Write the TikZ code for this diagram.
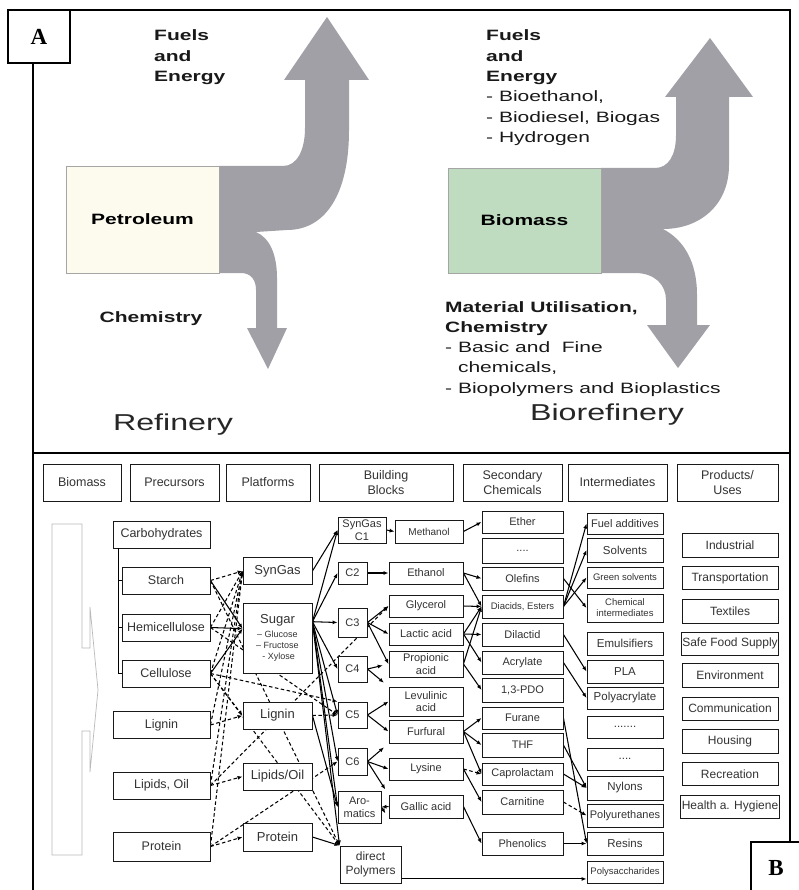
\documentclass[tikz,border=0pt]{standalone}
\usepackage{fontspec}
\setmainfont{Liberation Sans}
\newfontfamily\labfont{Liberation Serif}
\usepackage{graphicx}
\usetikzlibrary{positioning}
\usetikzlibrary{arrows.meta,backgrounds}

\definecolor{flowgray}{RGB}{160,160,166}
\definecolor{petrofill}{RGB}{253,250,238}
\definecolor{biofill}{RGB}{191,220,193}
\definecolor{boxgray}{RGB}{165,165,165}

\newcommand{\wide}[1]{\scalebox{1.4}[1]{#1}}
\newcommand{\widetxt}[1]{\scalebox{1.4}[1]{\begin{tabular}[t]{@{}l@{}}#1\end{tabular}}}

\begin{document}
\begin{tikzpicture}[x=1pt,y=-1pt,node distance=28pt,on grid,
    >={Latex[length=5pt,width=4pt]},
    frame/.style={line width=2pt},
    lab/.style={draw,line width=1.5pt,fill=white,font=\labfont\bfseries\fontsize{23}{25}\selectfont},
    flow/.style={fill=flowgray},
    src/.style={draw=boxgray,line width=0.8pt,minimum width=153pt,font=\bfseries\fontsize{15}{18}\selectfont},
    say/.style={inner sep=0pt,anchor=base west,text=black!90},
    bx/.style={draw=black!90,line width=0.9pt,fill=white,inner sep=1pt,align=center,text=black!80},
    hd/.style={bx,minimum height=37pt,font=\fontsize{12.5}{15}\selectfont},
    pre/.style={bx,minimum width=88pt,minimum height=27pt,font=\fontsize{12.5}{14}\selectfont},
    pla/.style={bx,minimum width=69pt,minimum height=27pt,font=\fontsize{13}{15}\selectfont},
    bb/.style={bx,minimum height=22pt,font=\fontsize{11}{12.5}\selectfont},
    bbc/.style={bb,minimum width=29pt},
    bbw/.style={bb,minimum width=74pt},
    sec/.style={bx,minimum width=81pt,minimum height=23pt,font=\fontsize{11}{12.5}\selectfont},
    itm/.style={bx,minimum width=76pt,minimum height=23pt,font=\fontsize{11.5}{13}\selectfont},
    prd/.style={bx,minimum width=96pt,minimum height=23pt,font=\fontsize{12}{14}\selectfont},
    tiny/.style={font=\fontsize{9.5}{11}\selectfont},
    dsh/.style={dash pattern=on 3.5pt off 2.5pt},
    stub/.style={shorten >=6pt}]
		\useasboundingbox (0,0) rectangle (798,890);

		% panel A : refinery
		\fill[flow] (219,166) -- (283,166) .. controls (297,166) and (305,150) .. (305,128) -- (305,80)
			-- (284,80) -- (327,17) -- (369,80) -- (349,80) -- (349,130)
			.. controls (349,195) and (325,230) .. (287,230) -- (256,232)
			.. controls (270,238) and (277,255) .. (277,278) -- (277,328) -- (287,328) -- (268,369)
			-- (247,328) -- (256,328) -- (256,290) .. controls (256,280) and (251,273) .. (241,273)
			-- (219,273) -- cycle;
		\node[src,fill=petrofill,minimum height=107pt] (petro) at (142.5,219.5) {\wide{Petroleum}};
		\node[say,font=\bfseries\fontsize{15}{20.3}\selectfont] (fuelA) at (154,41) {\widetxt{Fuels\\and\\Energy}};
		\node[text=black!90,font=\bfseries\fontsize{15}{18}\selectfont] (chemA) at (151,319) {\wide{Chemistry}};
		\node[text=black!85,font=\fontsize{23}{26}\selectfont] (refin) at (173,425) {\wide{Refinery}};

		% panel A : biorefinery
		\fill[flow] (601,168) -- (655,168) .. controls (668,168) and (676,156) .. (676,135) -- (676,97)
			-- (665,97) -- (710,38) -- (753,97) -- (729,97) -- (729,165)
			.. controls (729,205) and (700,229) .. (663,229)
			.. controls (684,240) and (697,262) .. (697,295) -- (697,325) -- (710,325) -- (678,368)
			-- (647,325) -- (666,325) -- (666,300) .. controls (666,285) and (655,273) .. (635,273)
			-- (601,273) -- cycle;
		\node[src,fill=biofill,minimum height=105pt] (biomA) at (524.5,220.5) {\wide{Biomass}};
		\node[say,font=\bfseries\fontsize{15}{20.3}\selectfont] (fuelB) at (486,41)
			{\widetxt{Fuels\\and\\Energy\\\mdseries - Bioethanol,\\\mdseries - Biodiesel, Biogas\\\mdseries - Hydrogen}};
		\node[say,font=\bfseries\fontsize{15}{20.3}\selectfont] (matB) at (445,312)
			{\widetxt{Material Utilisation,\\Chemistry\\\mdseries - Basic and\ \ Fine\\\mdseries \phantom{- }chemicals,\\\mdseries - Biopolymers and Bioplastics}};
		\node[text=black!85,font=\fontsize{23}{26}\selectfont] (biorefin) at (607,415) {\wide{Biorefinery}};

		% frame
		\draw[frame] (33,890) -- (33,10) -- (790,10) -- (790,842);
		\draw[frame] (33,453) -- (790,453);
		\node[lab,minimum width=62pt,minimum height=53pt] (labA) at (39,36.5) {A};
		\node[lab,minimum width=50pt,minimum height=52pt] (labB) at (776,868) {B};

		% panel B : column heads
		\node[hd,minimum width=78pt] (hbio) at (82,482.5) {Biomass};
		\node[hd,minimum width=89pt] (hpre) at (174.5,482.5) {Precursors};
		\node[hd,minimum width=84pt] (hpla) at (268,482.5) {Platforms};
		\node[hd,minimum width=134pt] (hbb) at (386,482.5) {Building\\Blocks};
		\node[hd,minimum width=99pt] (hsec) at (512.5,482.5) {Secondary\\Chemicals};
		\node[hd,minimum width=99pt] (hint) at (617.5,482.5) {Intermediates};
		\node[hd,minimum width=101pt] (hpro) at (727.5,482.5) {Products/\\Uses};

		% biomass arrow outline
		\draw[gray!55,line width=0.7pt] (52,524) -- (82,524) -- (82,648) -- (90,648) -- (90,607) -- (98,690)
			-- (90,772) -- (90,731) -- (82,731) -- (82,855) -- (52,855) -- cycle;

		% precursors
		\node[pre,minimum width=97pt] (carb) at (161.5,534.5) {Carbohydrates};
		\node[pre] (starch) at (166,580.5) {Starch};
		\node[pre] (hemi) [below=47pt of starch] {Hemicellulose};
		\node[pre] (cell) [below=46pt of hemi] {Cellulose};
		\node[pre,minimum width=97pt] (lig) at (161.5,725) {Lignin};
		\node[pre,minimum width=97pt] (lip) [below=60.5pt of lig] {Lipids, Oil};
		\node[pre,minimum width=97pt,minimum height=29pt] (prot) [below=61pt of lip] {Protein};
		\coordinate (brk) at (118,548);
		\draw[line width=0.9pt] (brk) |- (cell.west);
		\draw[line width=0.9pt] (brk |- starch.west) -- (starch.west);
		\draw[line width=0.9pt] (brk |- hemi.west) -- (hemi.west);

		% platforms
		\node[pla] (syn) at (277.5,571) {SynGas};
		\node[pla,minimum height=70pt] (sugar) [below=67pt of syn]
			{\begin{tabular}{@{}c@{}}Sugar\\[-1pt]
			\fontsize{9}{11}\selectfont -- Glucose\\[-4pt]
			\fontsize{9}{11}\selectfont -- Fructose\\[-4pt]
			\fontsize{9}{11}\selectfont \ - Xylose\end{tabular}};
		\node[pla] (plig) [below=77.5pt of sugar] {Lignin};
		\node[pla] (plip) [below=61pt of plig] {Lipids/Oil};
		\node[pla,minimum height=28pt] (pprot) [below=60.5pt of plip] {Protein};

		% building blocks
		\node[bb,minimum width=48pt,minimum height=26pt] (c1) at (362,530) {SynGas\\C1};
		\node[bb,minimum width=68pt,minimum height=23pt,font=\fontsize{10}{12}\selectfont] (meth) at (429,531.5) {Methanol};
		\node[bbc] (c2) at (352.5,573) {C2};
		\node[bbw] (eth) [right=73.5pt of c2] {Ethanol};
		\node[bbc,minimum height=29pt] (c3) at (352.5,622.5) {C3};
		\node[bbw] (glyc) at (426,606) {Glycerol};
		\node[bbw] (lact) [below=28pt of glyc] {Lactic acid};
		\node[bbw,minimum height=26pt] (prop) [below=30pt of lact] {Propionic\\acid};
		\node[bbc,minimum height=26pt] (c4) at (352.5,669) {C4};
		\node[bbw,minimum height=29pt] (levu) [below=37.5pt of prop] {Levulinic\\acid};
		\node[bbc,minimum height=26pt] (c5) at (352.5,715) {C5};
		\node[bbw,minimum height=23pt] (furf) [below=30pt of levu] {Furfural};
		\node[bbc,minimum height=27pt] (c6) at (352.5,761.5) {C6};
		\node[bbw] (lys) [below=37.5pt of furf] {Lysine};
		\node[bb,minimum width=43pt,minimum height=32pt,font=\fontsize{11}{13}\selectfont] (arom) at (359.5,807) {Aro-\\matics};
		\node[bbw,minimum height=23pt] (gall) [below=37.5pt of lys] {Gallic acid};
		\node[bb,minimum width=61pt,minimum height=37pt,font=\fontsize{12}{13.5}\selectfont] (dpoly) at (370.5,864.5) {direct\\Polymers};

		% secondary chemicals
		\node[sec,minimum height=22pt] (ether) at (522.5,522) {Ether};
		\node[sec,minimum height=25pt] (sdots) [below=28.5pt of ether] {....};
		\node[sec] (olef) [below=of sdots] {Olefins};
		\node[sec,tiny] (diac) [below=of olef] {Diacids, Esters};
		\node[sec] (dilac) [below=of diac] {Dilactid};
		\node[sec] (acryl) [below=of dilac] {Acrylate};
		\node[sec,minimum height=24pt] (pdo) [below=27.5pt of acryl] {1,3-PDO};
		\node[sec,minimum height=22pt] (furane) [below=of pdo] {Furane};
		\node[sec,minimum height=24pt] (thf) [below=27pt of furane] {THF};
		\node[sec,minimum height=22pt] (capro) [below=29pt of thf] {Caprolactam};
		\node[sec,minimum height=24pt] (carn) [below=of capro] {Carnitine};
		\node[sec] (phen) [below=41.5pt of carn] {Phenolics};

		% intermediates
		\node[itm,minimum height=21pt,font=\fontsize{11}{12}\selectfont] (fuel) at (625,523.5) {Fuel additives};
		\node[itm,minimum height=24pt] (solv) [below=26.5pt of fuel] {Solvents};
		\node[itm,minimum height=21pt,tiny] (gsolv) [below=27.5pt of solv] {Green solvents};
		\node[itm,minimum height=28pt,tiny] (chem) [below=30.5pt of gsolv] {Chemical\\intermediates};
		\node[itm] (emul) [below=35.5pt of chem] {Emulsifiers};
		\node[itm] (pla) [below=of emul] {PLA};
		\node[itm,minimum height=22pt] (polyac) [below=26.5pt of pla] {Polyacrylate};
		\node[itm,minimum height=22pt] (idots) [below=29pt of polyac] {.......};
		\node[itm,minimum height=22pt] (idotsb) [below=32pt of idots] {....};
		\node[itm,minimum height=24pt] (nyl) [below=29pt of idotsb] {Nylons};
		\node[itm,font=\fontsize{11}{12}\selectfont] (pur) [below=27.5pt of nyl] {Polyurethanes};
		\node[itm] (resin) [below=of pur] {Resins};
		\node[itm,minimum height=22pt,tiny] (psac) [below=28.5pt of resin] {Polysaccharides};

		% products / uses
		\node[prd,minimum height=24pt] (ind) at (730,545) {Industrial};
		\node[prd] (trans) [below=33pt of ind] {Transportation};
		\node[prd,minimum height=24pt] (text) [below=33pt of trans] {Textiles};
		\node[prd,minimum width=97pt] (food) [below=32.5pt of text] {Safe Food Supply};
		\node[prd,minimum height=24pt] (env) [below=31.5pt of food] {Environment};
		\node[prd] (comm) [below=33.5pt of env] {Communication};
		\node[prd,minimum height=24pt] (hous) [below=32.5pt of comm] {Housing};
		\node[prd] (recr) [below=33pt of hous] {Recreation};
		\node[prd] (health) [below=32.5pt of recr] {Health a. Hygiene};

		\begin{pgfonlayer}{background}
		\path[->,line width=1.05pt]
		(starch.east) edge [dsh] (syn.west)
		              edge (sugar.165)
		              edge [dsh] (dpoly.north west)
		(hemi.east)   edge [dsh] (syn.west)
		              edge (sugar.165)
		              edge [dsh] (c5.west)
		(cell.east)   edge [dsh] (syn.west)
		              edge (sugar.165)
		              edge [dsh] (plig.west)
		              edge [dsh] (c5.north west)
		              edge [dsh] (dpoly.north west)
		(lig.east)    edge [dsh] (syn.west)
		              edge [dsh] (plig.west)
		(lip.east)    edge [dsh] (syn.west)
		              edge [dsh] (plip.west)
		              edge [dsh] (glyc.west)
		(prot.east)   edge [dsh] (syn.west)
		              edge [dsh] (pprot.west)
		              edge [dsh] (c6.west)

		(syn.east)    edge (c1.west)
		(sugar.25)    edge (c1.west)
		              edge (c2.west)
		              edge (c3.west)
		              edge (c4.west)
		              edge (c5.west)
		              edge (c6.west)
		              edge (arom.west)
		              edge (dpoly.north west)
		(plig.east)   edge [dsh] (c5.west)
		              edge (arom.west)
		(pprot.east)  edge (dpoly.north west)

		(c1.east)     edge (meth.west)
		(meth.east)   edge (ether.west)
		(c2.east)     edge (eth.west)
		(eth.east)    edge (olef.west)
		              edge (diac.west)
		(c3.east)     edge (glyc.west)
		              edge (lact.west)
		              edge (prop.west)
		(glyc.east)   edge (diac.west)
		(lact.east)   edge (diac.west)
		              edge (dilac.west)
		              edge (acryl.west)
		(prop.east)   edge (diac.west)
		              edge (pdo.west)
		(c4.east)     edge [stub] (prop.west)
		              edge [stub] (levu.north west)
		(c5.east)     edge (levu.west)
		              edge (furf.west)
		(c6.east)     edge [stub] (furf.south west)
		              edge (lys.west)
		              edge [stub] (gall.north west)
		(gall.west)   edge (arom.east)
		(arom.east)   edge [stub] (gall.south west)
		(furf.east)   edge (furane.west)
		              edge (thf.west)
		              edge (capro.west)
		(lys.east)    edge [dsh] (capro.west)
		              edge (carn.west)
		(gall.east)   edge (phen.west)
		(dpoly.-25)   edge (dpoly.-25 -| psac.west)

		(diac.east)   edge (fuel.west)
		              edge (solv.west)
		              edge (gsolv.west)
		(olef.east)   edge (chem.west)
		(dilac.east)  edge (pla.west)
		(acryl.east)  edge (polyac.west)
		(furane.east) edge (resin.west)
		(thf.east)    edge (nyl.west)
		(capro.east)  edge (nyl.west)
		(carn.east)   edge [dsh] (pur.west)
		(phen.east)   edge (resin.west)
		;
		\end{pgfonlayer}
\end{tikzpicture}
\end{document}
